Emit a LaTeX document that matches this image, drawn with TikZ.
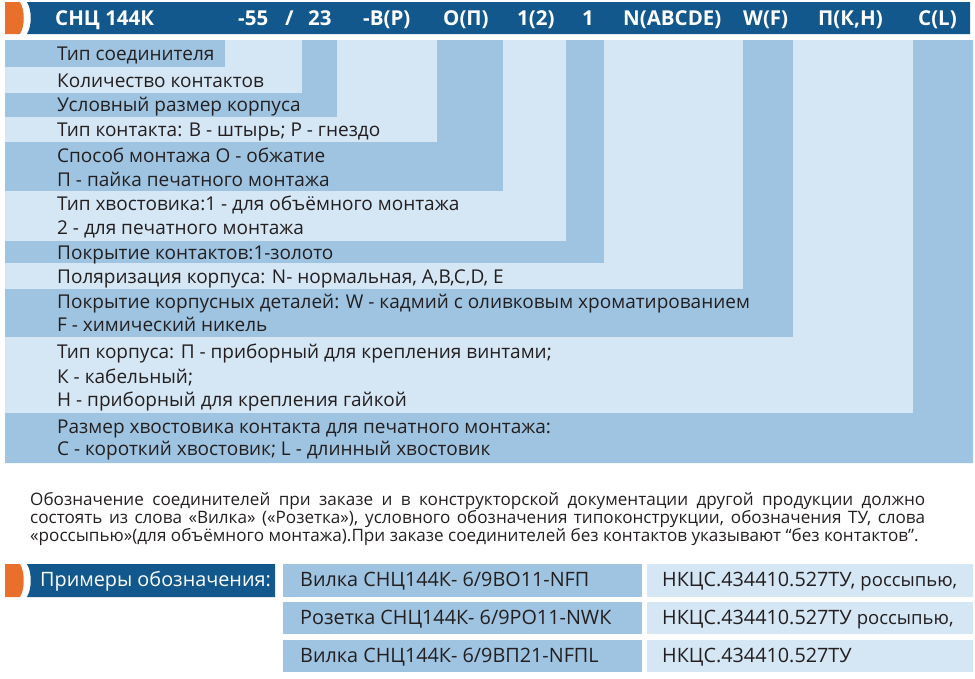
\documentclass[tikz,border=0pt]{standalone}
\usepackage{fontspec}
\setmainfont{Open Sans}
\definecolor{hdrblue}{RGB}{18,88,140}
\definecolor{orng}{RGB}{232,112,42}
\definecolor{darkc}{RGB}{159,196,225}
\definecolor{lightc}{RGB}{213,230,244}
\definecolor{txt}{RGB}{35,31,32}
\tikzset{
  hdrtxt/.style={anchor=west,inner sep=0pt,text=white,font=\fontsize{20.5}{22}\selectfont\bfseries,text height=14pt,text depth=0pt},
  rowtxt/.style={anchor=west,inner sep=0pt,text=txt,font=\fontsize{19}{22}\selectfont,text height=13pt,text depth=0pt},
  paratxt/.style={anchor=west,inner sep=0pt,text=txt,font=\fontsize{17.1}{18}\selectfont,text height=12pt,text depth=0pt},
  extxt/.style={anchor=west,inner sep=0pt,text=txt,font=\fontsize{19.8}{22}\selectfont,text height=13pt,text depth=0pt}
}
\begin{document}
\begin{tikzpicture}[x=1pt,y=-1pt]
\useasboundingbox (0,0) rectangle (975,678);
% ---------- top header bar
\fill[orng] (5,2) -- (20,2) .. controls (25,10) and (25,26) .. (20,34) -- (5,34) -- cycle;
\fill[hdrblue] (27,2) -- (970,2) -- (970,34) -- (27,34) .. controls (32,26) and (32,10) .. (27,2) -- cycle;
\node[hdrtxt] (h1) at (55,18) {СНЦ 144К};
\node[hdrtxt] (h2) at (238,18) {-55};
\node[hdrtxt] (h3) at (285,18) {/};
\node[hdrtxt] (h4) at (308,18) {23};
\node[hdrtxt] (h5) at (363,18) {-В(Р)};
\node[hdrtxt] (h6) at (443,18) {О(П)};
\node[hdrtxt] (h7) at (517,18) {1(2)};
\node[hdrtxt] (h8) at (582,18) {1};
\node[hdrtxt] (h9) at (623,18) {N(ABCDE)};
\node[hdrtxt] (h10) at (743,18) {W(F)};
\node[hdrtxt] (h11) at (818,18) {П(К,Н)};
\node[hdrtxt] (h12) at (918,18) {C(L)};
% ---------- stepped rows / columns
\fill[darkc] (5,40) rectangle (225,67);
\foreach \t/\b/\l/\r/\c in {67/93/225/302/lightc, 93/117/302/337/darkc, 117/142/337/437/lightc,
  142/191/437/503/darkc, 191/241/503/566/lightc, 241/263/566/604/darkc, 263/289/604/743/lightc,
  289/337/743/793/darkc, 337/413/793/913/lightc, 413/463/913/973/darkc}
  \fill[\c] (5,\t) -- (\l,\t) -- (\l,40) -- (\r,40) -- (\r,\b) -- (5,\b) -- cycle;
% ---------- row texts
\node[rowtxt] (r1) at (57,54) {Тип соединителя};
\node[rowtxt] (r2) at (57,81) {Количество контактов};
\node[rowtxt] (r3) at (57,105) {Условный размер корпуса};
\node[rowtxt] (r4) at (57,130) {Тип контакта: В - штырь; Р - гнездо};
\node[rowtxt] (r5a) at (57,156) {Способ монтажа О - обжатие};
\node[rowtxt] (r5b) at (57,180) {П - пайка печатного монтажа};
\node[rowtxt] (r6a) at (57,204) {Тип хвостовика:1 - для объёмного монтажа};
\node[rowtxt] (r6b) at (57,228) {2 - для печатного монтажа};
\node[rowtxt] (r7) at (57,253) {Покрытие контактов:1-золото};
\node[rowtxt] (r8) at (57,277) {Поляризация корпуса: N- нормальная, A,B,C,D, E};
\node[rowtxt] (r9a) at (57,302) {Покрытие корпусных деталей: W - кадмий с оливковым хроматированием};
\node[rowtxt] (r9b) at (57,325) {F - химический никель};
\node[rowtxt] (r10a) at (57,352) {Тип корпуса: П - приборный для крепления винтами;};
\node[rowtxt] (r10b) at (57,377) {К - кабельный;};
\node[rowtxt] (r10c) at (57,400) {Н - приборный для крепления гайкой};
\node[rowtxt] (r11a) at (57,427) {Размер хвостовика контакта для печатного монтажа:};
\node[rowtxt] (r11b) at (57,449) {С - короткий хвостовик; L - длинный хвостовик};
% ---------- paragraph
\node[paratxt] (p1) at (30,499) {\makebox[895pt][s]{Обозначение соединителей при заказе и в конструкторской документации другой продукции должно}};
\node[paratxt] (p2) at (30,517) {\makebox[895pt][s]{состоять из слова «Вилка» («Розетка»), условного обозначения типоконструкции, обозначения ТУ, слова}};
\node[paratxt] (p3) at (30,535) {«россыпью»(для объёмного монтажа).При заказе соединителей без контактов указывают “без контактов”.};
% ---------- examples
\fill[orng] (5,564) -- (20,564) .. controls (25,572) and (25,589) .. (20,597) -- (5,597) -- cycle;
\fill[hdrblue] (27,564) -- (275,564) -- (275,597) -- (27,597) .. controls (32,589) and (32,572) .. (27,564) -- cycle;
\node[extxt,text=white] (ex) at (40,580) {Примеры обозначения:};
\foreach \t/\b in {564/597, 602/634, 640/672}{
  \fill[darkc] (283,\t) rectangle (642,\b);
  \fill[lightc] (647,\t) rectangle (973,\b);
}
\node[extxt] (e1a) at (300,580) {Вилка СНЦ144К- 6/9ВО11-NFП};
\node[extxt] (e2a) at (300,618) {Розетка СНЦ144К- 6/9РО11-NWК};
\node[extxt] (e3a) at (300,656) {Вилка СНЦ144К- 6/9ВП21-NFПL};
\node[extxt] (e1b) at (662,580) {НКЦС.434410.527ТУ, {\fontsize{18.5}{20}\selectfont россыпью,}};
\node[extxt] (e2b) at (662,618) {НКЦС.434410.527ТУ {\fontsize{18.5}{20}\selectfont россыпью,}};
\node[extxt] (e3b) at (662,656) {НКЦС.434410.527ТУ};
\end{tikzpicture}
\end{document}
